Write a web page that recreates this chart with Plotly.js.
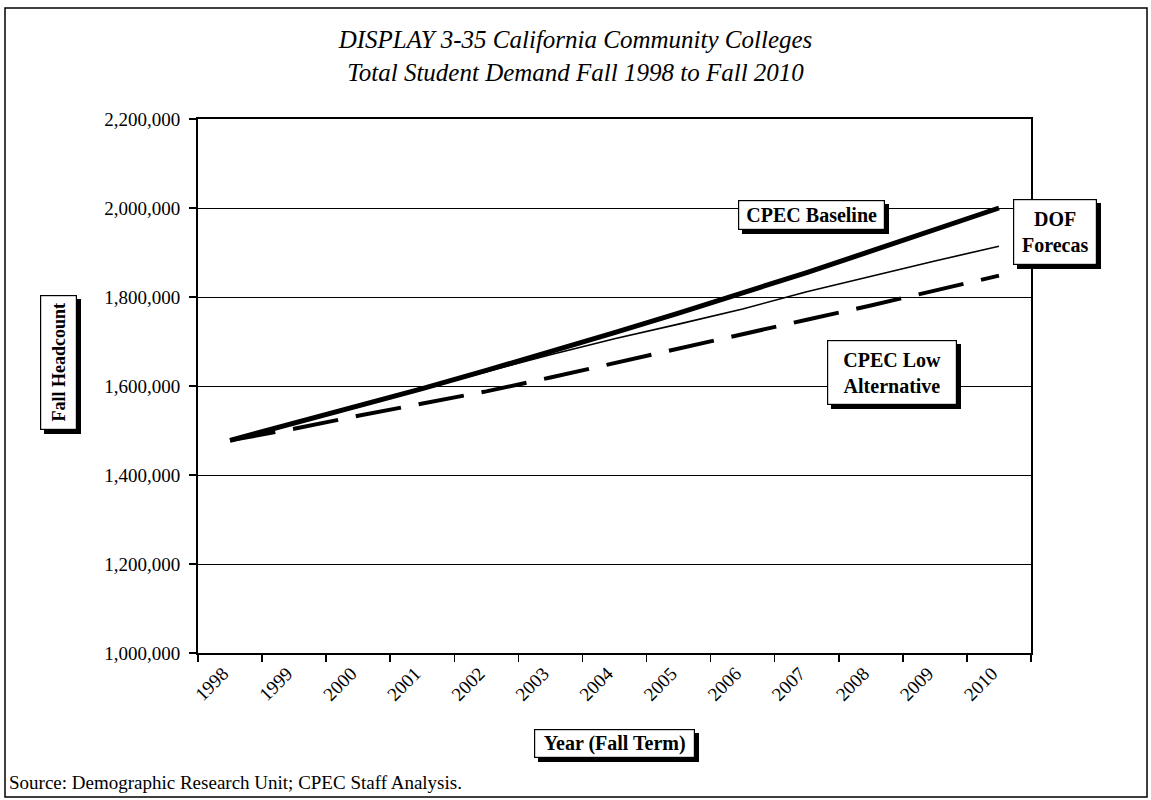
<!DOCTYPE html>
<html>
<head>
<meta charset="utf-8">
<script src="https://cdn.plot.ly/plotly-3.0.1.min.js"></script>
<style>html,body{margin:0;padding:0;background:#fff;}#chart{width:1151px;height:800px;}</style>
</head>
<body>
<div id="chart"></div>
<script>
const years = ["1998","1999","2000","2001","2002","2003","2004","2005","2006","2007","2008","2009","2010"];
const cpecBaseline = [1478000,1516000,1555000,1594000,1635000,1677000,1720000,1764000,1809000,1855000,1903000,1951000,2000000];
const dofForecast = [1478000,1515000,1553000,1592000,1632000,1670000,1706000,1739000,1773000,1812000,1847000,1881000,1914000];
const cpecLow = [1478000,1504000,1533000,1560000,1588000,1619000,1652000,1685000,1717000,1749000,1781000,1814000,1848000];
const yTicks = [1000000,1200000,1400000,1600000,1800000,2000000,2200000];
const yTickText = ["1,000,000","1,200,000","1,400,000","1,600,000","1,800,000","2,000,000","2,200,000"];

const serif = "Liberation Serif, Times New Roman, serif";

// plot area in pixels
const PL = 198, PR = 1031, PT = 119, PB = 653;
const PW = PR - PL, PH = PB - PT;
const px2x = p => (p - PL) / PW;
const px2y = p => (PB - p) / PH;

const traces = [
  {x: years, y: cpecLow, type: "scatter", mode: "lines", name: "CPEC Low Alternative",
   line: {color: "#000", width: 4, dash: "46px,18px"}},
  {x: years, y: dofForecast, type: "scatter", mode: "lines", name: "DOF Forecast",
   line: {color: "#000", width: 1.6}},
  {x: years, y: cpecBaseline, type: "scatter", mode: "lines", name: "CPEC Baseline",
   line: {color: "#000", width: 5}}
];

const annotations = [];
const shapes = [{type: "rect", xref: "paper", yref: "paper", x0: px2x(5), x1: px2x(1147), y0: px2y(797), y1: px2y(8),
    line: {color: "#000", width: 1.5}, fillcolor: "rgba(0,0,0,0)", layer: "below"}];

function boxed(text, L, R, T, B, size, rotated) {
  const W = R - L, H = B - T;
  const ann = {xref: "paper", yref: "paper", x: px2x((L + R) / 2), y: px2y((T + B) / 2),
    xanchor: "center", yanchor: "middle", text: text, showarrow: false,
    font: {family: serif, size: size, color: "#000"},
    bgcolor: "#fff", bordercolor: "#000", borderwidth: 1.2, borderpad: 2};
  if (rotated) { ann.textangle = -90; ann.width = H - 6; ann.height = W - 6; }
  else { ann.width = W - 6; ann.height = H - 6; }
  annotations.push(ann);
  shapes.push({type: "rect", xref: "paper", yref: "paper", layer: "above",
    x0: px2x(L + 4), x1: px2x(R + 4), y0: px2y(B + 4), y1: px2y(T + 4),
    line: {width: 0}, fillcolor: "#000"});
}

boxed("<b>CPEC Baseline</b>", 738, 885, 200, 230, 20);
boxed("<b>DOF<br>Forecas</b>", 1013, 1097, 199, 265, 20);
boxed("<b>CPEC Low<br>Alternative</b>", 827, 957, 340, 405, 20);
boxed("<b>Year (Fall Term)</b>", 534, 695, 729, 758, 20);
boxed("<b>Fall Headcount</b>", 40, 77, 295, 430, 18, true);

annotations.push({xref: "paper", yref: "paper", x: px2x(7), y: px2y(782), xanchor: "left", yanchor: "middle",
  text: "Source: Demographic Research Unit; CPEC Staff Analysis.", showarrow: false,
  font: {family: serif, size: 19, color: "#000"}});

const layout = {
  width: 1151, height: 800,
  margin: {l: PL, r: 1151 - PR, t: PT, b: 800 - PB},
  paper_bgcolor: "#fff", plot_bgcolor: "#fff",
  showlegend: false,
  title: {text: "<i>DISPLAY 3-35 California Community Colleges<br>Total Student Demand Fall 1998 to Fall 2010</i>",
    x: 0.5, xanchor: "center", y: 0.94, yanchor: "middle", yref: "container",
    font: {family: serif, size: 25, color: "#000"}},
  xaxis: {type: "category", range: [-0.5, 12.5], tickson: "boundaries", ticks: "outside", ticklen: 7,
    tickwidth: 1.5, tickcolor: "#000", tickangle: -45, showgrid: false, zeroline: false,
    showline: true, linecolor: "#000", linewidth: 2, mirror: true, ticklabelshift: -7,
    tickfont: {family: serif, size: 19, color: "#000"}},
  yaxis: {range: [1000000, 2200000], tickvals: yTicks, ticktext: yTickText, ticks: "outside", ticklen: 7,
    tickwidth: 1.5, tickcolor: "#000", showgrid: true, gridcolor: "#000", gridwidth: 1, zeroline: false,
    showline: true, linecolor: "#000", linewidth: 2, mirror: true, ticklabelstandoff: 5,
    tickfont: {family: serif, size: 19, color: "#000"}},
  shapes: shapes,
  annotations: annotations
};

Plotly.newPlot("chart", traces, layout, {staticPlot: true, displayModeBar: false});
</script>
</body>
</html>
